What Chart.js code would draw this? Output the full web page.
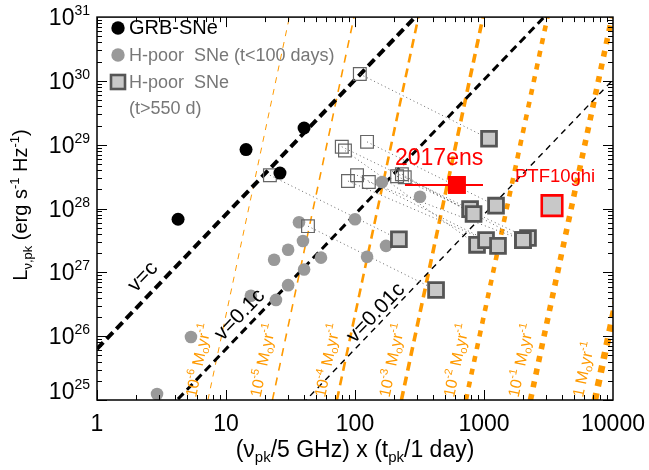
<!DOCTYPE html>
<html><head><meta charset="utf-8">
<script src="https://cdn.jsdelivr.net/npm/chart.js@4/dist/chart.umd.min.js"></script>
<style>html,body{margin:0;padding:0;background:#fff;}canvas{display:block;}</style>
</head><body>
<canvas id="c" width="649" height="470"></canvas>
<script>
// ---- data ----
const grbX = [4.25, 14.3, 26.2, 40.3];
const grbY = [6.8e27, 8.4e28, 3.6e28, 1.83e29];

const earlyX = [36.8, 39.5, 30.3, 23.6, 54.5, 40.3, 30.3, 24.4, 15.6, 100, 124, 174, 162, 319, 2.92, 5.35];
const earlyY = [6.1e27, 3.1e27, 2.26e27, 1.58e27, 1.7e27, 1.11e27, 6.3e26, 3.7e26, 4.3e26, 6.8e27, 1.76e27, 2.6e27, 2.6e28, 1.53e28, 1.24e25, 9.7e25];

// open squares (first epoch) paired with late-time filled squares
const openX = [109, 21.9, 43.2, 79, 83.6, 124, 88.2, 103.7, 128, 212, 231, 243];
const openY = [1.28e30, 3.33e28, 5.3e27, 9.3e28, 8.1e28, 1.11e29, 2.7e28, 3.33e28, 2.6e28, 3.2e28, 3.45e28, 3.1e28];
const lateX = [1094, 219, 425, 780, 883, 1239, 1037, 1284, 2005, 2193, 830, 2005];
const lateY = [1.24e29, 3.3e27, 5.3e26, 9.8e27, 2.7e27, 1.11e28, 3.2e27, 2.6e27, 3.2e27, 3.45e27, 8.2e27, 3.2e27];

const ens17 = {x: 617, y: 2.34e28, xlo: 244, xhi: 982};
const ptf10ghi = {x: 3367, y: 1.11e28};

// velocity lines: endpoints (x at left edge, L there) and (x, L) at top
const velLabels = ['v=c', 'v=0.1c', 'v=0.01c'];
const velX0 = [1, 1, 1];
const velY0 = [6.3e25, 4.9e23, 3.8e21];
const velX1 = [292, 2920, 29200];
const velY1 = [1e31, 1e31, 1e31];

// mass-loss lines: x where each crosses L=1e25 and L=1e31
const mdotExp = ['-6', '-5', '-4', '-3', '-2', '-1', ''];
const mdotBottomX = [7.24, 22.9, 72.4, 229, 724, 2291, 7244];
const mdotTopX = [31.0, 98.2, 310, 982, 3105, 9817, 31046];

const xTickValues = [1, 10, 100, 1000, 10000];
const xTickLabels = ['1', '10', '100', '1000', '10000'];
const yTickExp = [25, 26, 27, 28, 29, 30, 31];

// ---- build datasets ----
const ORANGE = '#ff9a00';
const datasets = [];
const mdotW = [1, 1.6, 2.6, 3.6, 4.6, 5.6, 6.6];
const mdotDash = [[6,6],[8,7],[9,6],[9,6],[6,7],[6,7],[7,7]];
mdotBottomX.forEach((bx, i) => {
  datasets.push({type:'line', showLine:true, pointRadius:0, order:100,
    data:[{x:bx, y:1e25},{x:mdotTopX[i], y:1e31}],
    borderColor:ORANGE, borderWidth:mdotW[i], borderDash:mdotDash[i], borderCapStyle:'butt'});
});
const velW = [4, 3, 1.4];
const velDash = [[9,5],[8,5],[6,5]];
velX0.forEach((x0, i) => {
  datasets.push({type:'line', showLine:true, pointRadius:0, order:90,
    data:[{x:x0, y:velY0[i]},{x:velX1[i], y:velY1[i]}],
    borderColor:'#000', borderWidth:velW[i], borderDash:velDash[i], borderCapStyle:'butt'});
});
openX.forEach((x, i) => {
  datasets.push({type:'line', showLine:true, pointRadius:0, order:80,
    data:[{x:x, y:openY[i]},{x:lateX[i], y:lateY[i]}],
    borderColor:'#666', borderWidth:1, borderDash:[1,3]});
});
datasets.push({label:'early', order:70, data: earlyX.map((x,i)=>({x, y:earlyY[i]})),
  pointStyle:'circle', pointRadius:6.3, backgroundColor:'#999', borderWidth:0});
datasets.push({label:'open', order:60, data: openX.map((x,i)=>({x, y:openY[i]})),
  pointStyle:'rect', pointRadius:9, backgroundColor:'rgba(0,0,0,0)', borderColor:'#666', borderWidth:1.2});
datasets.push({label:'late', order:50, data: lateX.map((x,i)=>({x, y:lateY[i]})),
  pointStyle:'rect', pointRadius:10.5, backgroundColor:'#c8c8c8', borderColor:'#555', borderWidth:2.8});
datasets.push({label:'grb', order:40, data: grbX.map((x,i)=>({x, y:grbY[i]})),
  pointStyle:'circle', pointRadius:6.5, backgroundColor:'#000', borderWidth:0});
datasets.push({type:'line', showLine:true, pointRadius:0, order:30,
  data:[{x:ens17.xlo, y:ens17.y},{x:ens17.xhi, y:ens17.y}], borderColor:'#ff0000', borderWidth:2});
datasets.push({label:'2017ens', order:20, data:[{x:ens17.x, y:ens17.y}],
  pointStyle:'rect', pointRadius:12.7, backgroundColor:'#ff0000', borderWidth:0});
datasets.push({label:'PTF10ghi', order:10, data:[{x:ptf10ghi.x, y:ptf10ghi.y}],
  pointStyle:'rect', pointRadius:14.5, backgroundColor:'#c8c8c8', borderColor:'#ff0000', borderWidth:2.6});

// ---- text helpers ----
const FF = '"Liberation Sans", Arial, Helvetica, sans-serif';
function fnt(s){ return s + 'px ' + FF; }
function richWidth(ctx, segs){ let w=0; for(const s of segs){ ctx.font=fnt(s.size); w+=ctx.measureText(s.t).width; } return w; }
function drawRich(ctx, segs, x, y, align){
  ctx.textAlign='left'; ctx.textBaseline='alphabetic';
  const w = richWidth(ctx, segs);
  let cx = align==='center' ? x - w/2 : (align==='right' ? x - w : x);
  for (const s of segs){ ctx.font=fnt(s.size); ctx.fillText(s.t, cx, y + (s.dy||0)); cx += ctx.measureText(s.t).width; }
}

const decor = {
  id:'decor',
  afterDraw(chart){
    const ctx = chart.ctx, xs = chart.scales.x, ys = chart.scales.y, a = chart.chartArea;
    ctx.save();
    // frame
    ctx.strokeStyle='#000'; ctx.lineWidth=1.5;
    ctx.strokeRect(a.left, a.top, a.right-a.left, a.bottom-a.top);
    // ticks
    ctx.lineWidth=1;
    ctx.beginPath();
    for (let d=0; d<4; d++) for (let m=1; m<=9; m++){
      const v = m*Math.pow(10,d); const px = Math.round(xs.getPixelForValue(v))+0.5;
      const L = m===1 ? 10 : 5;
      ctx.moveTo(px, a.bottom); ctx.lineTo(px, a.bottom-L);
      ctx.moveTo(px, a.top); ctx.lineTo(px, a.top+L);
    }
    for (let d=25; d<31; d++) for (let m=1; m<=9; m++){
      const v = m*Math.pow(10,d); const py = Math.round(ys.getPixelForValue(v))+0.5;
      const L = m===1 ? 10 : 5;
      ctx.moveTo(a.left, py); ctx.lineTo(a.left+L, py);
      ctx.moveTo(a.right, py); ctx.lineTo(a.right-L, py);
    }
    ctx.stroke();
    // x tick labels
    ctx.fillStyle='#000';
    xTickValues.forEach((v,i)=>{
      drawRich(ctx, [{t:xTickLabels[i], size:23}], xs.getPixelForValue(v), 431, 'center');
    });
    // y tick labels
    yTickExp.forEach(e=>{
      let py = ys.getPixelForValue(Math.pow(10,e)) + 8;
      if (e===31) py = 25; if (e===25) py = 399;
      drawRich(ctx, [{t:'10', size:23},{t:String(e), size:14, dy:-10}], 90, py, 'right');
    });
    // axis titles
    drawRich(ctx, [{t:'(\u03bd',size:23},{t:'pk',size:15,dy:5},{t:'/5 GHz) x (t',size:23},{t:'pk',size:15,dy:5},{t:'/1 day)',size:23}], 355, 457, 'center');
    ctx.save(); ctx.translate(27, 205); ctx.rotate(-Math.PI/2);
    drawRich(ctx, [{t:'L',size:20},{t:'\u03bd,pk',size:13,dy:5},{t:' (erg s',size:20},{t:'-1',size:13,dy:-8},{t:' Hz',size:20},{t:'-1',size:13,dy:-8},{t:')',size:20}], 0, 0, 'center');
    ctx.restore();
    // clip for in-plot labels
    ctx.save();
    ctx.beginPath(); ctx.rect(a.left, a.top, a.right-a.left, a.bottom-a.top); ctx.clip();
    // velocity labels
    const velPos = [[143,277],[240,315],[376,313]];
    velLabels.forEach((t,i)=>{
      const p0x = xs.getPixelForValue(velX0[i]), p0y = ys.getPixelForValue(velY0[i]);
      const p1x = xs.getPixelForValue(velX1[i]), p1y = ys.getPixelForValue(velY1[i]);
      const ang = Math.atan2(p1y-p0y, p1x-p0x);
      ctx.save(); ctx.translate(velPos[i][0], velPos[i][1]); ctx.rotate(ang);
      ctx.fillStyle='#000'; ctx.font=fnt(21); ctx.textAlign='center'; ctx.textBaseline='middle';
      ctx.fillText(t, 0, 0); ctx.restore();
    });
    // mass-loss labels
    ctx.fillStyle=ORANGE;
    mdotBottomX.forEach((bx,i)=>{
      const b = xs.getPixelForValue(bx), t = xs.getPixelForValue(mdotTopX[i]);
      const ang = Math.atan2(a.top-a.bottom, t-b);
      ctx.save(); ctx.translate(b-12, a.bottom-2); ctx.rotate(ang);
      const segs = mdotExp[i] ? [{t:'10',size:16},{t:mdotExp[i],size:11,dy:-7},{t:' M',size:16},{t:'o',size:11,dy:3},{t:'yr',size:16},{t:'-1',size:11,dy:-7}]
                              : [{t:'1 M',size:16},{t:'o',size:11,dy:3},{t:'yr',size:16},{t:'-1',size:11,dy:-7}];
      drawRich(ctx, segs, 0, 0, 'left');
      ctx.restore();
    });
    ctx.restore();
    // annotations
    ctx.fillStyle='#ff0000';
    drawRich(ctx, [{t:'2017ens', size:23}], 395, 165, 'left');
    drawRich(ctx, [{t:'PTF10ghi', size:18.5}], 515, 182, 'left');
    // legend
    ctx.fillStyle='#000'; ctx.beginPath(); ctx.arc(118, 28, 6.7, 0, 2*Math.PI); ctx.fill();
    drawRich(ctx, [{t:'GRB-SNe', size:20}], 129, 34, 'left');
    ctx.fillStyle='#999'; ctx.beginPath(); ctx.arc(118, 55, 6.7, 0, 2*Math.PI); ctx.fill();
    ctx.fillStyle='#777';
    drawRich(ctx, [{t:'H-poor  SNe (t<100 days)', size:18}], 129, 61, 'left');
    ctx.fillStyle='#c8c8c8'; ctx.fillRect(111, 75, 14, 14);
    ctx.strokeStyle='#555'; ctx.lineWidth=2.6; ctx.strokeRect(111, 75, 14, 14);
    ctx.fillStyle='#777';
    drawRich(ctx, [{t:'H-poor  SNe', size:18}], 129, 88, 'left');
    drawRich(ctx, [{t:'(t>550 d)', size:18}], 129, 114, 'left');
    ctx.restore();
  }
};

new Chart(document.getElementById('c'), {
  type:'scatter',
  data:{datasets},
  options:{
    responsive:false, animation:false, devicePixelRatio:1,
    layout:{padding:{left:97, right:36, top:10, bottom:70}},
    plugins:{legend:{display:false}, tooltip:{enabled:false}},
    scales:{
      x:{type:'logarithmic', min:1, max:10000, display:false},
      y:{type:'logarithmic', min:1e25, max:1e31, display:false}
    }
  },
  plugins:[decor]
});
</script>
</body></html>
